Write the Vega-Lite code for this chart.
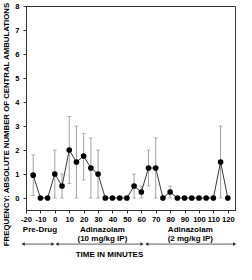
{
  "$schema": "https://vega.github.io/schema/vega-lite/v6.json",
  "width": 209,
  "height": 204,
  "autosize": {"type": "none"},
  "padding": {"left": 26, "top": 6, "right": 17, "bottom": 70},
  "background": "white",
  "config": {
    "view": {"stroke": "#333", "strokeWidth": 1},
    "font": "Liberation Sans",
    "axis": {"grid": false, "domainColor": "#333", "tickColor": "#333", "labelFont": "Liberation Sans", "labelFontWeight": "bold", "labelColor": "black", "titleFont": "Liberation Sans", "titleFontWeight": "bold", "titleColor": "black", "labelOverlap": false, "labelFlush": false},
    "axisX": {"labelOverlap": false, "labelFlush": false},
    "axisQuantitative": {"labelOverlap": false}
  },
  "datasets": {
    "main": [
      {"t": -15, "mean": 0.95, "lo": 0.1, "hi": 1.8},
      {"t": -10, "mean": 0, "lo": 0, "hi": 0},
      {"t": -5, "mean": 0, "lo": 0, "hi": 0},
      {"t": 0, "mean": 1.0, "lo": 0, "hi": 2.0},
      {"t": 5, "mean": 0.5, "lo": 0, "hi": 1.0},
      {"t": 10, "mean": 2.0, "lo": 0.6, "hi": 3.4},
      {"t": 15, "mean": 1.5, "lo": 0, "hi": 3.0},
      {"t": 20, "mean": 1.75, "lo": 0.75, "hi": 2.7},
      {"t": 25, "mean": 1.25, "lo": 0, "hi": 2.5},
      {"t": 30, "mean": 1.0, "lo": 0, "hi": 2.0},
      {"t": 35, "mean": 0, "lo": 0, "hi": 0},
      {"t": 40, "mean": 0, "lo": 0, "hi": 0},
      {"t": 45, "mean": 0, "lo": 0, "hi": 0},
      {"t": 50, "mean": 0, "lo": 0, "hi": 0},
      {"t": 55, "mean": 0.5, "lo": 0, "hi": 1.0},
      {"t": 60, "mean": 0.25, "lo": 0, "hi": 0.5},
      {"t": 65, "mean": 1.25, "lo": 0.5, "hi": 2.0},
      {"t": 70, "mean": 1.25, "lo": 0, "hi": 2.5},
      {"t": 75, "mean": 0, "lo": 0, "hi": 0},
      {"t": 80, "mean": 0.25, "lo": 0, "hi": 0.5},
      {"t": 85, "mean": 0, "lo": 0, "hi": 0},
      {"t": 90, "mean": 0, "lo": 0, "hi": 0},
      {"t": 95, "mean": 0, "lo": 0, "hi": 0},
      {"t": 100, "mean": 0, "lo": 0, "hi": 0},
      {"t": 105, "mean": 0, "lo": 0, "hi": 0},
      {"t": 110, "mean": 0, "lo": 0, "hi": 0},
      {"t": 115, "mean": 1.5, "lo": 0, "hi": 3.0},
      {"t": 120, "mean": 0, "lo": 0, "hi": 0}
    ],
    "dividers": [{"t": 2.5}, {"t": 62.5}],
    "groups": [
      {"t": -10.3, "v": -1.33, "label": "Pre-Drug"},
      {"t": 33, "v": -1.33, "label": "Adinazolam"},
      {"t": 33, "v": -1.7, "label": "(10 mg/kg IP)"},
      {"t": 94, "v": -1.33, "label": "Adinazolam"},
      {"t": 94, "v": -1.7, "label": "(2 mg/kg IP)"}
    ],
    "arrows": [
      {"t": -22, "b": -1.3, "v": -1.92},
      {"t": 1.5, "b": 60.5, "v": -1.92},
      {"t": 63.8, "b": 124.8, "v": -1.92}
    ]
  },
  "encoding": {
    "x": {"field": "t", "type": "quantitative", "scale": {"domain": [-20, 125], "nice": false, "zero": false},
      "axis": {"values": [-20, -10, 0, 10, 20, 30, 40, 50, 60, 70, 80, 90, 100, 110, 120], "labelOverlap": false, "labelFlush": false, "labelBound": false, "labelExpr": "'' + datum.value", "labelFontSize": 7.6, "tickSize": 3, "labelPadding": 2, "title": "TIME IN MINUTES", "titleFontSize": 8, "titleX": 83, "titleY": 44, "titleBaseline": "middle"}},
    "y": {"field": "mean", "type": "quantitative", "scale": {"domain": [-0.5, 8], "nice": false, "zero": false},
      "axis": {"values": [0, 1, 2, 3, 4, 5, 6, 7, 8], "labelOverlap": false, "labelFontSize": 7.5, "tickSize": 3, "labelPadding": 4, "title": "FREQUENCY: ABSOLUTE NUMBER OF CENTRAL AMBULATIONS", "titleFontSize": 7.8, "titleX": -20, "titleY": 118, "titleBaseline": "middle", "titleAngle": -90, "titleAlign": "center"}}
  },
  "layer": [
    {
      "data": {"name": "dividers"},
      "mark": {"type": "rule", "color": "#aaa", "strokeDash": [1, 2], "strokeWidth": 0.8},
      "encoding": {
        "y": {"datum": 8, "type": "quantitative"},
        "y2": {"datum": -0.5}
      }
    },
    {
      "data": {"name": "main"},
      "mark": {"type": "rule", "color": "#888", "strokeWidth": 0.8},
      "encoding": {
        "y": {"field": "lo", "type": "quantitative"},
        "y2": {"field": "hi"}
      }
    },
    {
      "data": {"name": "main"},
      "mark": {"type": "tick", "color": "#888", "orient": "horizontal", "size": 4, "thickness": 0.8},
      "encoding": {
        "y": {"field": "hi", "type": "quantitative"}
      }
    },
    {
      "data": {"name": "main"},
      "mark": {"type": "tick", "color": "#888", "orient": "horizontal", "size": 4, "thickness": 0.8},
      "encoding": {
        "y": {"field": "lo", "type": "quantitative"}
      }
    },
    {
      "data": {"name": "main"},
      "mark": {"type": "line", "color": "#222", "strokeWidth": 0.9},
      "encoding": {}
    },
    {
      "data": {"name": "main"},
      "mark": {"type": "point", "filled": true, "color": "black", "size": 32, "opacity": 1},
      "encoding": {}
    },
    {
      "data": {"name": "groups"},
      "mark": {"type": "text", "fontWeight": "bold", "fontSize": 8, "color": "black", "baseline": "middle", "align": "center"},
      "encoding": {
        "y": {"field": "v", "type": "quantitative"},
        "text": {"field": "label"}
      }
    },
    {
      "data": {"name": "arrows"},
      "mark": {"type": "rule", "color": "#333", "strokeWidth": 0.8},
      "encoding": {
        "x2": {"field": "b"},
        "y": {"field": "v", "type": "quantitative"}
      }
    },
    {
      "data": {"name": "arrows"},
      "mark": {"type": "point", "shape": "triangle-left", "filled": true, "color": "#333", "size": 14, "opacity": 1},
      "encoding": {
        "y": {"field": "v", "type": "quantitative"}
      }
    },
    {
      "data": {"name": "arrows"},
      "mark": {"type": "point", "shape": "triangle-right", "filled": true, "color": "#333", "size": 14, "opacity": 1},
      "encoding": {
        "x": {"field": "b", "type": "quantitative"},
        "y": {"field": "v", "type": "quantitative"}
      }
    }
  ]
}
